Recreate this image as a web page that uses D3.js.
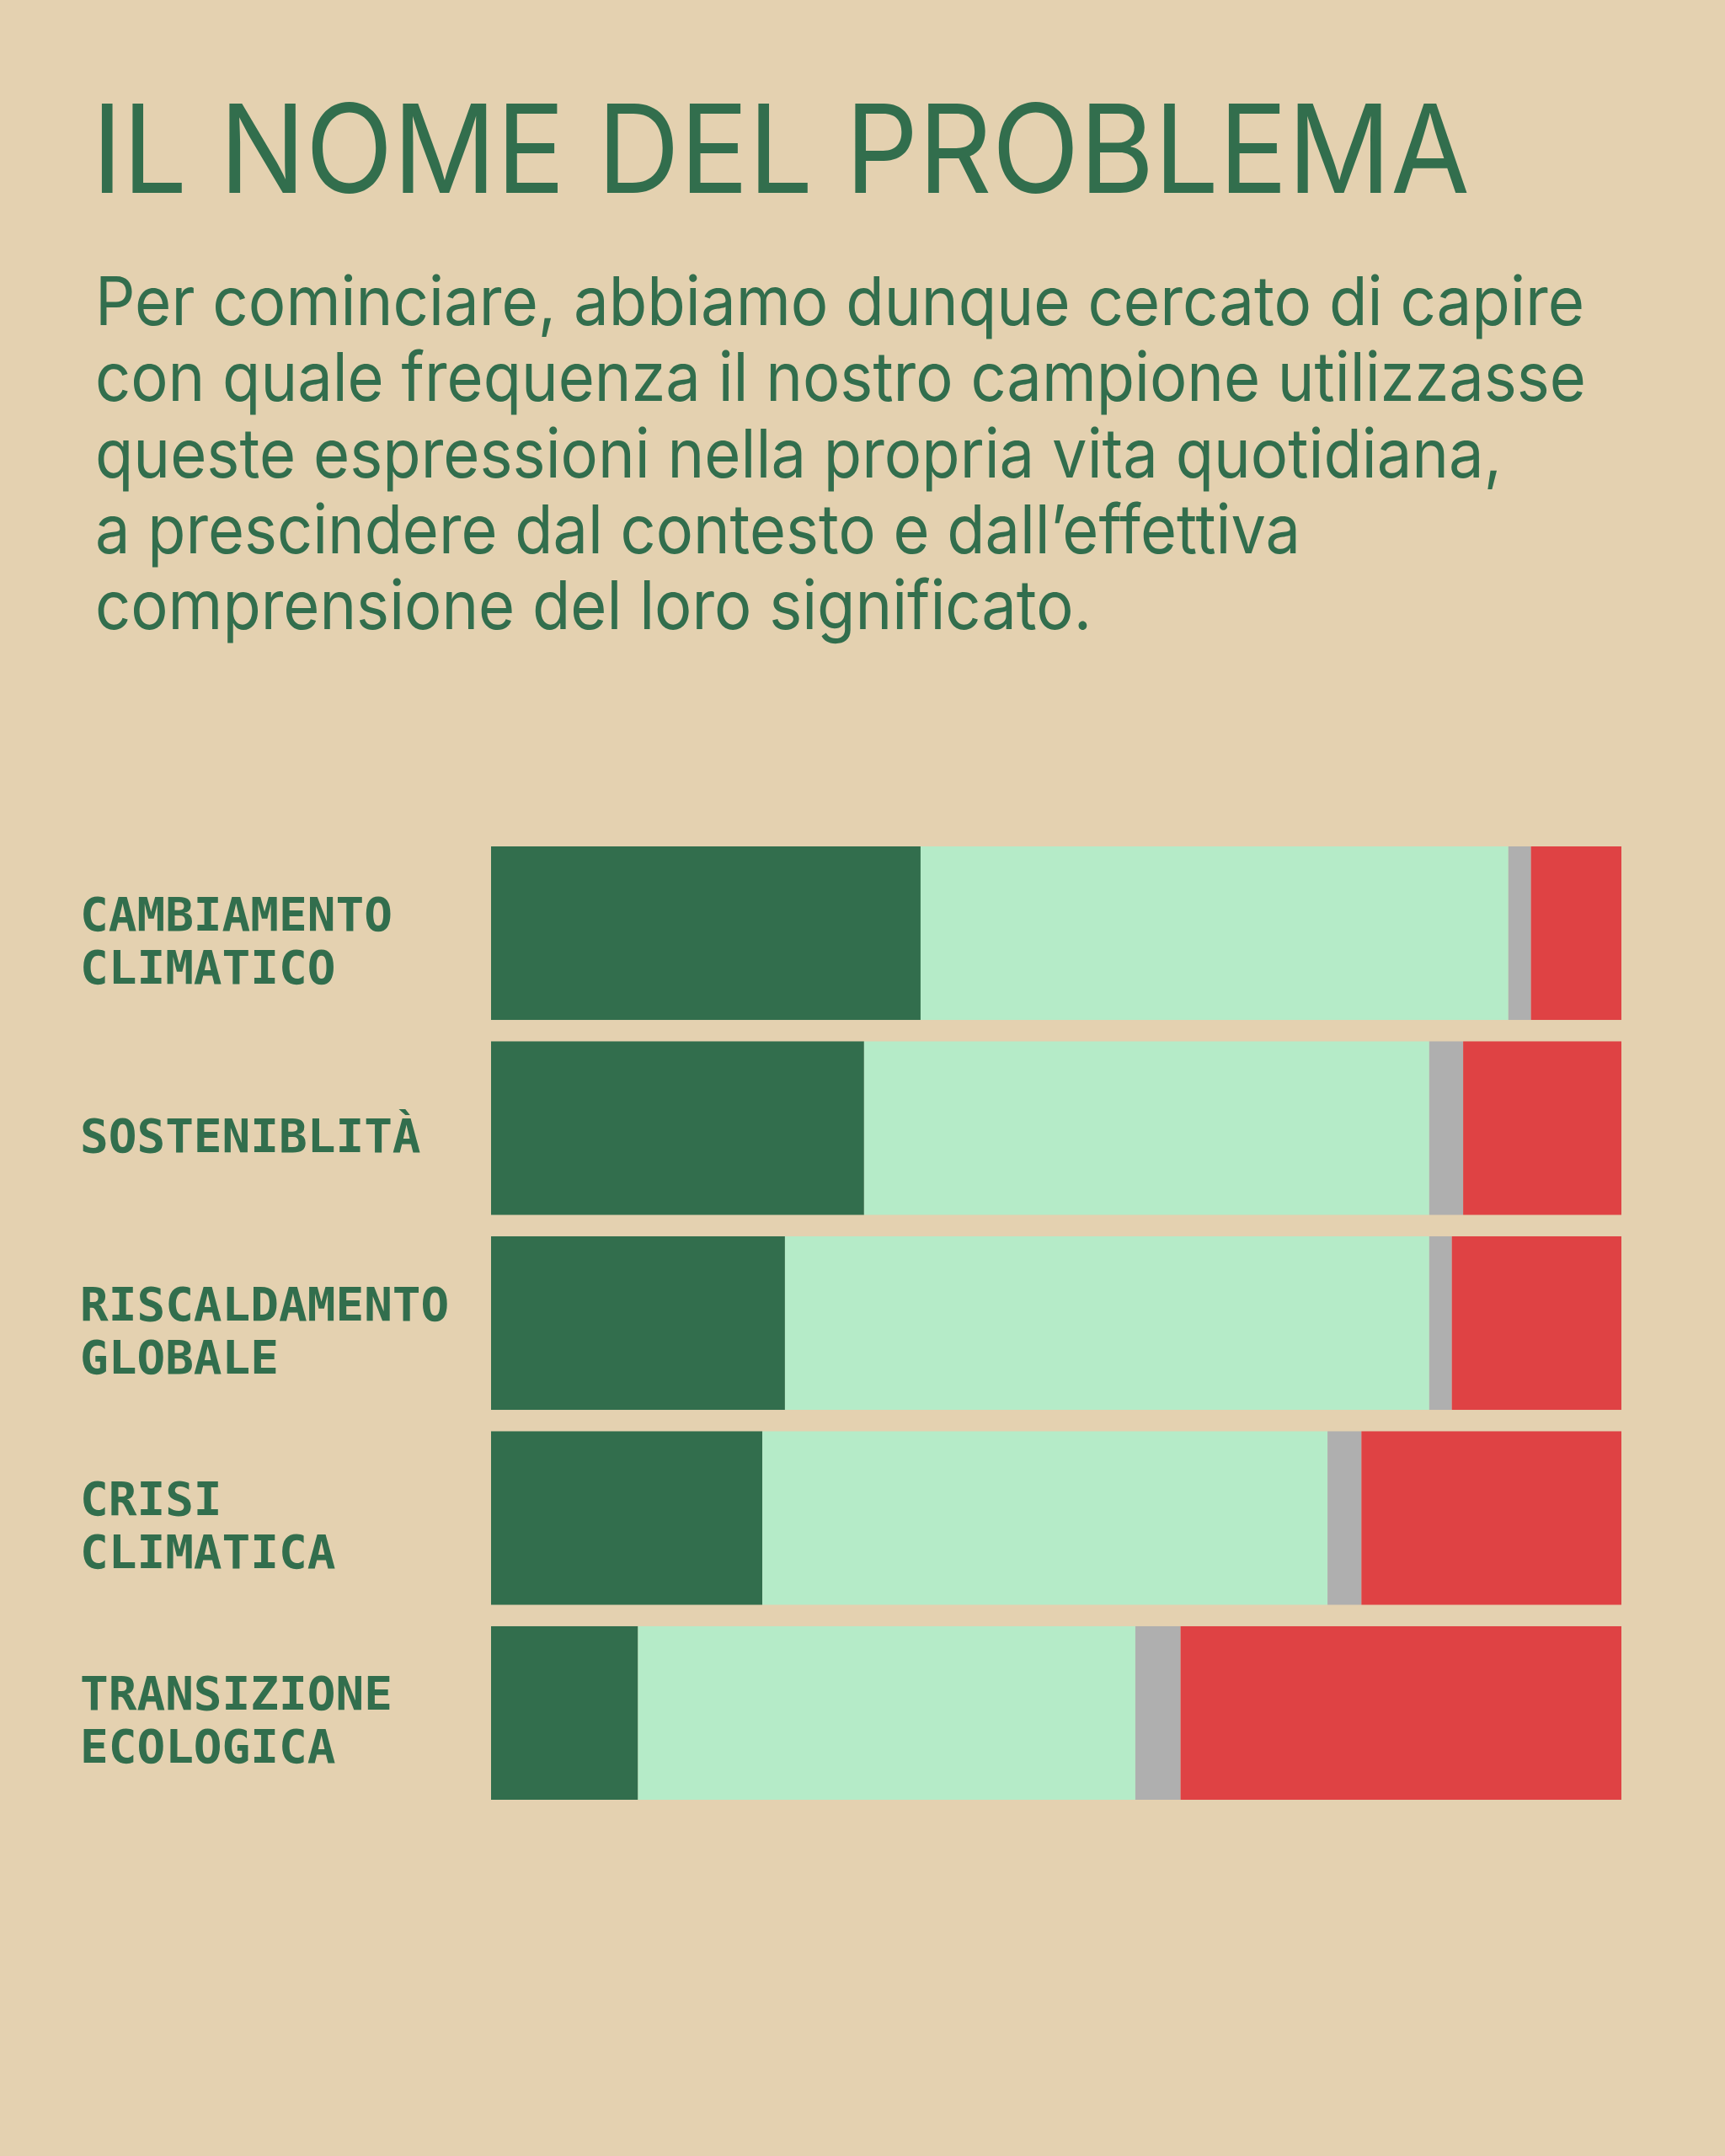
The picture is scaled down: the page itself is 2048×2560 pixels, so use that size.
<!DOCTYPE html>
<html>
<head>
<meta charset="utf-8">
<script src="https://cdn.jsdelivr.net/npm/d3@7"></script>
<style>
  body { margin: 0; background: #e4d1b0; }
</style>
</head>
<body>
<div id="viz-container"></div>
<script>
// data
let categories = [
  ["CAMBIAMENTO", "CLIMATICO"],
  ["SOSTENIBLITÀ"],
  ["RISCALDAMENTO", "GLOBALE"],
  ["CRISI", "CLIMATICA"],
  ["TRANSIZIONE", "ECOLOGICA"]
];
let seriesKeys = ["spesso", "aVolte", "nonSo", "mai"];
let spesso = [38, 33, 26, 24, 13];
let aVolte = [52, 50, 57, 50, 44];
let nonSo  = [2, 3, 2, 3, 4];
let mai    = [8, 14, 15, 23, 39];

let titleText = "IL NOME DEL PROBLEMA";
let introLines = [
  "Per cominciare, abbiamo dunque cercato di capire",
  "con quale frequenza il nostro campione utilizzasse",
  "queste espressioni nella propria vita quotidiana,",
  "a prescindere dal contesto e dall\u2019effettiva",
  "comprensione del loro significato."
];

let green = "#326e4d";
let colors = ["#326e4d", "#b5ebc8", "#afafaf", "#df4244"];

let rows = categories.map(function(c, i) {
  return { label: c, spesso: spesso[i], aVolte: aVolte[i], nonSo: nonSo[i], mai: mai[i] };
});

//
let viz = d3.select("#viz-container")
                  .append("svg")
                      .attr("id", "viz")
                      .attr("width", 2048)
                      .attr("height", 2560)
;

viz.append("rect")
      .attr("width", 2048)
      .attr("height", 2560)
      .attr("fill", "#e4d1b0")
;

// title
viz.append("text")
      .attr("x", 109)
      .attr("y", 229)
      .attr("fill", green)
      .attr("font-family", "Inter, 'Liberation Sans', sans-serif")
      .attr("font-size", 146)
      .attr("textLength", 1636)
      .attr("lengthAdjust", "spacingAndGlyphs")
      .text(titleText)
;

// intro paragraph
let introWidths = [1768, 1770, 1670, 1431, 1183];
viz.selectAll(".intro").data(introLines)
    .enter().append("text")
      .attr("class", "intro")
      .attr("x", 113)
      .attr("y", function(d, i) { return 386 + i * 90.3; })
      .attr("fill", green)
      .attr("font-family", "Inter, 'Liberation Sans', sans-serif")
      .attr("font-size", 80)
      .attr("textLength", function(d, i) { return introWidths[i]; })
      .attr("lengthAdjust", "spacingAndGlyphs")
      .text(function(d) { return d; })
;

// scales
let x = d3.scaleLinear()
            .domain([0, 100])
            .range([583, 1925])
;
let y = d3.scaleBand()
            .domain(d3.range(rows.length))
            .range([1005, 2137])
            .paddingInner(0.11)
            .paddingOuter(0)
;

let stack = d3.stack().keys(seriesKeys);
let layers = stack(rows);

let groups = viz.selectAll(".layer").data(layers)
    .enter().append("g")
      .attr("class", "layer")
      .attr("fill", function(d, i) { return colors[i]; })
;

groups.selectAll("rect").data(function(d) { return d; })
    .enter().append("rect")
      .attr("x", function(d) { return x(d[0]); })
      .attr("y", function(d, i) { return y(i); })
      .attr("width", function(d) { return x(d[1]) - x(d[0]); })
      .attr("height", y.bandwidth())
;

// labels
let labels = viz.selectAll(".label").data(rows)
    .enter().append("text")
      .attr("class", "label")
      .attr("fill", green)
      .attr("font-family", "'DejaVu Sans Mono', monospace")
      .attr("font-weight", "bold")
      .attr("font-size", 56)
      .attr("x", 95)
      .attr("y", function(d, i) {
        let n = d.label.length;
        // center the block of lines on the bar
        return y(i) + y.bandwidth() / 2 + 20 - (n - 1) * 63 / 2 + 8;
      })
;

labels.selectAll("tspan").data(function(d) { return d.label; })
    .enter().append("tspan")
      .attr("x", 95)
      .attr("dy", function(d, i) { return i === 0 ? 0 : 63; })
      .text(function(d) { return d; })
;
</script>
</body>
</html>
